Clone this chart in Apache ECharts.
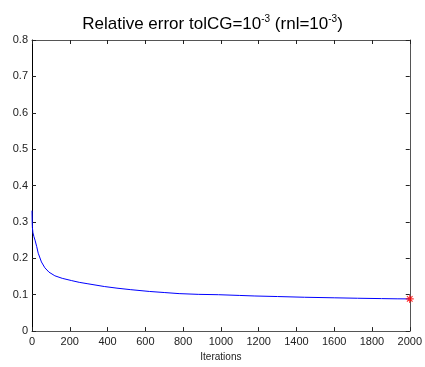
<!DOCTYPE html>
<html>
<head>
<meta charset="utf-8">
<script src="https://cdn.jsdelivr.net/npm/echarts@6/dist/echarts.min.js"></script>
<style>
html,body{margin:0;padding:0;background:#fff;}
#c{width:425px;height:367px;}
</style>
</head>
<body>
<div id="c"></div>
<script>
// Data
var iterations = [0, 1, 2, 5, 10, 16, 25, 33, 50, 68, 90, 121, 160, 208, 250, 296, 383, 450, 520, 621, 700, 779, 880, 988, 1100, 1180, 1300, 1443, 1600, 1723, 1850, 1933, 2000];
var relError = [0.331, 0.30, 0.285, 0.27, 0.26, 0.25, 0.232, 0.214, 0.19, 0.174, 0.162, 0.152, 0.145, 0.139, 0.134, 0.130, 0.1225, 0.118, 0.114, 0.109, 0.106, 0.103, 0.101, 0.100, 0.098, 0.0965, 0.095, 0.093, 0.0915, 0.0903, 0.0893, 0.0887, 0.0885];
var finalPoint = [2000, 0.0885];
var xTicks = [0, 200, 400, 600, 800, 1000, 1200, 1400, 1600, 1800, 2000];
var yTicks = [0, 0.1, 0.2, 0.3, 0.4, 0.5, 0.6, 0.7, 0.8];

var lineData = iterations.map(function (x, i) { return [x, relError[i]]; });

var chart = echarts.init(document.getElementById('c'), null, {renderer: 'canvas'});
var fontFam = 'Liberation Sans, Arial, sans-serif';
var axisCol = '#555';
chart.setOption({
  animation: false,
  backgroundColor: '#fff',
  title: {
    text: '{a|Relative error tolCG=10}{s|-3}{a| (rnl=10}{s|-3}{a|)}',
    left: 'center',
    top: 8,
    textStyle: {
      rich: {
        a: {fontSize: 17, fontWeight: 'normal', fontFamily: fontFam, color: '#000', lineHeight: 22},
        s: {fontSize: 10, fontWeight: 'normal', fontFamily: fontFam, color: '#000', lineHeight: 22, padding: [0, 0, 10, 0]}
      }
    }
  },
  grid: {left: 32, right: 12, top: 40, bottom: 31, containLabel: false},
  xAxis: [{
    type: 'value', min: xTicks[0], max: xTicks[xTicks.length - 1], interval: 200,
    position: 'bottom',
    name: 'Iterations', nameLocation: 'middle', nameGap: 17,
    nameTextStyle: {fontSize: 10, fontFamily: fontFam, color: '#222'},
    axisLine: {show: true, onZero: false, lineStyle: {color: axisCol, width: 1}},
    axisTick: {show: true, inside: true, length: 4, lineStyle: {color: '#222'}},
    axisLabel: {fontSize: 11, fontFamily: fontFam, color: '#222', margin: 5,
      formatter: function (v) { return String(v); }},
    splitLine: {show: false}
  }, {
    type: 'value', min: xTicks[0], max: xTicks[xTicks.length - 1], interval: 200,
    position: 'top',
    axisLine: {show: true, onZero: false, lineStyle: {color: axisCol, width: 1}},
    axisTick: {show: true, inside: true, length: 4, lineStyle: {color: '#222'}},
    axisLabel: {show: false},
    splitLine: {show: false}
  }],
  yAxis: [{
    type: 'value', min: yTicks[0], max: yTicks[yTicks.length - 1], interval: 0.1,
    position: 'left',
    axisLine: {show: true, onZero: false, lineStyle: {color: '#000', width: 1}},
    axisTick: {show: true, inside: true, length: 4, lineStyle: {color: '#222'}},
    axisLabel: {fontSize: 11, fontFamily: fontFam, color: '#222', margin: 4,
      formatter: function (v) { return String(Math.round(v * 10) / 10); }},
    splitLine: {show: false}
  }, {
    type: 'value', min: yTicks[0], max: yTicks[yTicks.length - 1], interval: 0.1,
    position: 'right',
    axisLine: {show: true, onZero: false, lineStyle: {color: axisCol, width: 1}},
    axisTick: {show: true, inside: true, length: 4, lineStyle: {color: '#222'}},
    axisLabel: {show: false},
    splitLine: {show: false}
  }],
  series: [{
    type: 'line',
    data: lineData,
    showSymbol: false,
    symbol: 'none',
    lineStyle: {color: '#0000ff', width: 1},
    z: 3
  }, {
    type: 'scatter',
    data: [finalPoint],
    symbol: 'path://M0,-5L0,5M-5,0L5,0M-3.5,-3.5L3.5,3.5M-3.5,3.5L3.5,-3.5',
    symbolSize: 8,
    itemStyle: {color: 'none', borderColor: '#ff0000', borderWidth: 1.2},
    z: 4
  }]
});
</script>
</body>
</html>
